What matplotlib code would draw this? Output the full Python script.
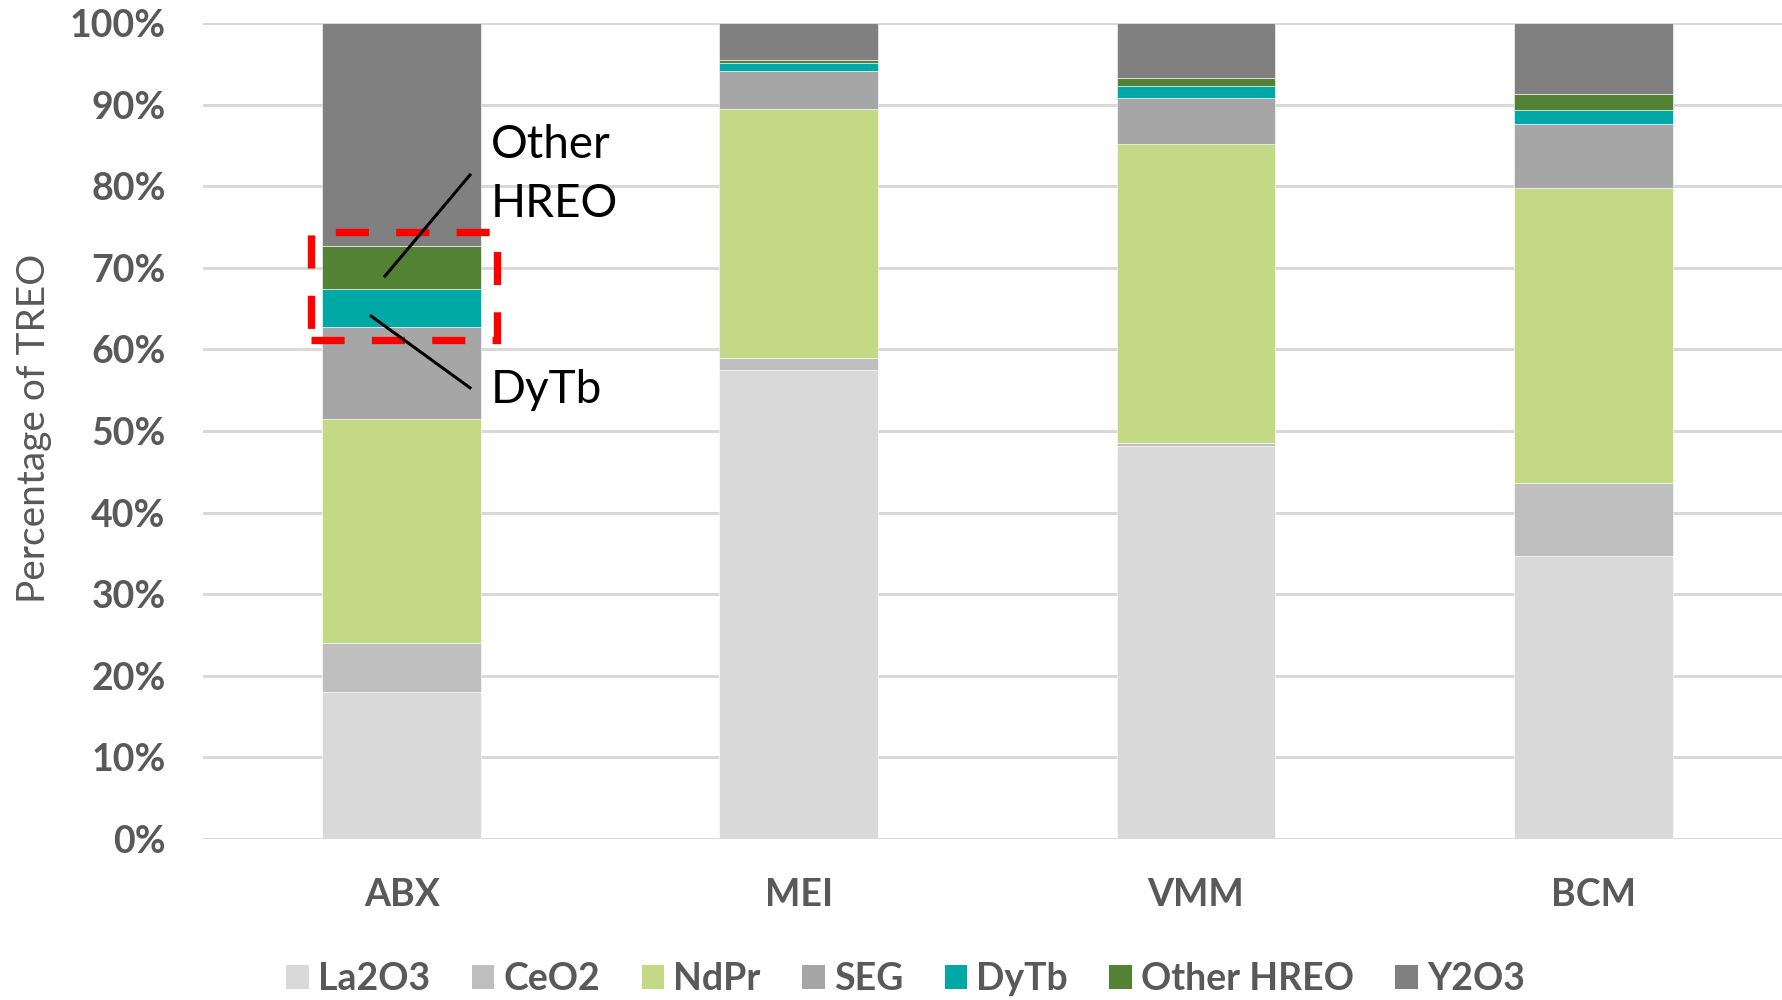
import matplotlib
matplotlib.use("Agg")
import matplotlib.pyplot as plt
from matplotlib.patches import Rectangle
from matplotlib.ticker import FuncFormatter

# deposits and composition, % of TREO
sites = ["ABX", "MEI", "VMM", "BCM"]
la2o3 = [18.0, 57.5, 48.2, 34.7]
ceo2 = [6.0, 1.4, 0.3, 8.9]
ndpr = [27.5, 30.6, 36.7, 36.2]
seg = [11.3, 4.6, 5.7, 7.9]
dytb = [4.6, 1.0, 1.4, 1.7]
other_hreo = [5.3, 0.4, 1.0, 1.9]
y2o3 = [27.3, 4.5, 6.7, 8.7]

series = [
    ("La2O3", la2o3, "#D9D9D9"),
    ("CeO2", ceo2, "#BFBFBF"),
    ("NdPr", ndpr, "#C3D985"),
    ("SEG", seg, "#A6A6A6"),
    ("DyTb", dytb, "#00A9A5"),
    ("Other HREO", other_hreo, "#548235"),
    ("Y2O3", y2o3, "#808080"),
]

grey_txt = "#595959"
plt.rcParams["font.family"] = ["Lato", "DejaVu Sans"]

fig = plt.figure(figsize=(17.83, 10), dpi=100)
ax = fig.add_axes([0.1139, 0.1613, 0.8861, 0.8154])

x = list(range(len(sites)))
bottom = [0.0] * len(sites)
for name, vals, col in series:
    ax.bar(x, vals, width=0.4, bottom=bottom, color=col, label=name,
           edgecolor="white", linewidth=0.4, zorder=3)
    bottom = [b + v for b, v in zip(bottom, vals)]

ax.set_ylim(0, 100)
ax.set_xlim(-0.5, 3.478)
ax.set_yticks(range(0, 101, 10))
ax.yaxis.set_major_formatter(FuncFormatter(lambda v, p: f"{v:.0f}%"))
ax.set_xticks(x)
ax.set_xticklabels(sites)
ax.grid(axis="y", color="#D9D9D9", linewidth=2.2, zorder=0)
ax.set_axisbelow(True)
for s in ax.spines.values():
    s.set_visible(False)
ax.tick_params(axis="both", length=0, labelcolor=grey_txt, labelsize=27)
ax.tick_params(axis="y", pad=27)
ax.tick_params(axis="x", pad=28.5)
for lab in ax.get_xticklabels() + ax.get_yticklabels():
    lab.set_fontweight("bold")

fig.text(0.019, 0.572, "Percentage of TREO", rotation=90, ha="center",
         va="center", fontsize=28, color=grey_txt)

# callout for the small heavy-REO slices of ABX
ax.add_patch(Rectangle((-0.229, 61.2), 0.468, 13.2, fill=False,
                       edgecolor="red", linewidth=5.3,
                       linestyle=(0, (4.5, 3.7)), zorder=5, clip_on=False))
ax.plot([0.172, -0.042], [81.4, 69.0], color="black", lw=2.2, zorder=6)
ax.plot([-0.077, 0.172], [64.1, 55.3], color="black", lw=2.2, zorder=6)
ax.text(0.225, 81.4, "Other\nHREO", fontsize=33, color="black",
        ha="left", va="center", linespacing=1.5, zorder=6)
ax.text(0.225, 53.4, "DyTb", fontsize=33, color="black",
        ha="left", va="baseline", zorder=6)

leg = fig.legend(loc="center", bbox_to_anchor=(0.508, 0.021), ncol=7,
                 frameon=False, fontsize=27, handlelength=0.6,
                 handleheight=0.6, handletextpad=0.25, columnspacing=1.1,
                 borderaxespad=0)
for t in leg.get_texts():
    t.set_color(grey_txt)
    t.set_fontweight("bold")
for h in leg.legend_handles:
    h.set_edgecolor("none")

fig.savefig("out.png", dpi=100)
